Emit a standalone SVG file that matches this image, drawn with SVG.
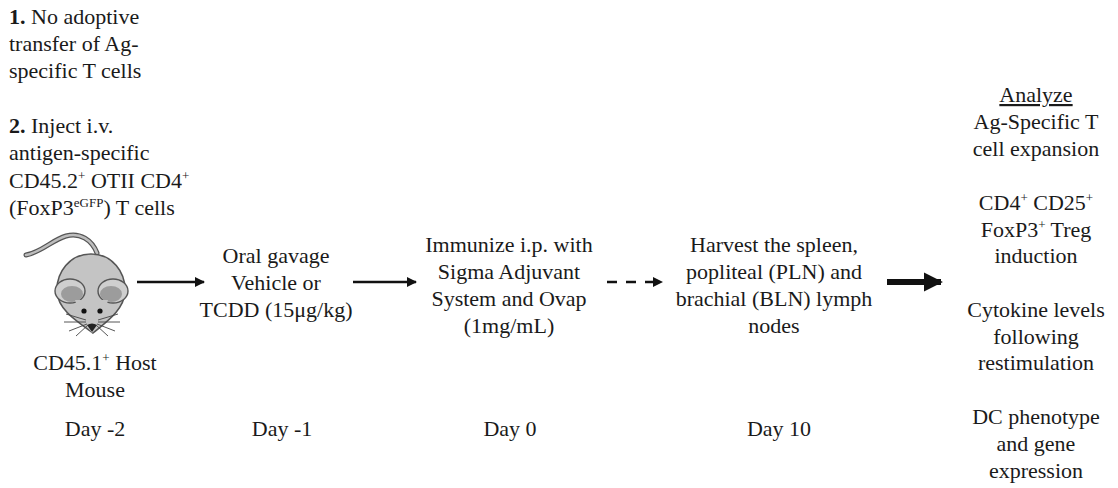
<svg xmlns="http://www.w3.org/2000/svg" width="1118" height="488" viewBox="0 0 1118 488">
  <defs>
    <marker id="head" viewBox="0 0 10 10" refX="9" refY="5" markerWidth="4" markerHeight="4" orient="auto" markerUnits="strokeWidth">
      <path d="M0,0 L10,5 L0,10 Z" fill="#111"/>
    </marker>
    <marker id="headBig" viewBox="0 0 10 10" refX="9" refY="5" markerWidth="3.2" markerHeight="3.2" orient="auto" markerUnits="strokeWidth">
      <path d="M0,0 L10,5 L0,10 Z" fill="#111"/>
    </marker>
  </defs>

  <!-- intro notes, top left -->
  <g id="notes" fill="#1a1a1a">
    <text font-family="Liberation Serif" font-size="22" x="9" y="24"><tspan font-weight="bold">1.</tspan> No adoptive</text>
    <text font-family="Liberation Serif" font-size="22" x="9" y="51">transfer of Ag-</text>
    <text font-family="Liberation Serif" font-size="22" x="9" y="78">specific T cells</text>
    <text font-family="Liberation Serif" font-size="22" x="9" y="133"><tspan font-weight="bold">2.</tspan> Inject i.v.</text>
    <text font-family="Liberation Serif" font-size="22" x="9" y="160">antigen-specific</text>
    <text font-family="Liberation Serif" font-size="22" x="9" y="188">CD45.2<tspan font-size="13" dy="-8">+</tspan><tspan dy="8"> OTII CD4</tspan><tspan font-size="13" dy="-8">+</tspan></text>
    <text font-family="Liberation Serif" font-size="22" x="9" y="215">(FoxP3<tspan font-size="13" dy="-8">eGFP</tspan><tspan dy="8">) T cells</tspan></text>
  </g>

  <!-- host mouse -->
  <g id="mouse" fill="#1a1a1a">
    <path d="M97 253 C92 240 80 232 66 236 C52 240 42 252 26 255" fill="none" stroke="#555" stroke-width="5" stroke-linecap="round"/>
    <path d="M97 253 C92 240 80 232 66 236 C52 240 42 252 26 255" fill="none" stroke="#bdbdbd" stroke-width="2.6" stroke-linecap="round"/>
    <path d="M91 254 C112 254 126 272 125 292 C124 310 106 322 93 333 C78 322 58 310 57 292 C56 272 70 254 91 254 Z" fill="#c4c4c4" stroke="#555" stroke-width="1.6"/>
    <ellipse cx="70" cy="291" rx="15" ry="12" fill="#cfcfcf" stroke="#555" stroke-width="1.4"/>
    <ellipse cx="72" cy="294" rx="11" ry="8" fill="#9c9c9c"/>
    <ellipse cx="113" cy="291" rx="15" ry="12" fill="#cfcfcf" stroke="#555" stroke-width="1.4"/>
    <ellipse cx="111" cy="294" rx="11" ry="8" fill="#9c9c9c"/>
    <path d="M75 300 C80 318 87 326 92 333 C97 326 104 318 108 300" fill="#c4c4c4" stroke="none"/>
    <circle cx="84" cy="311" r="2.6" fill="#111"/>
    <circle cx="100" cy="311" r="2.6" fill="#111"/>
    <path d="M87 325 Q92 322 97 325 L92 332 Z" fill="#222"/>
    <g stroke="#444" stroke-width="0.9" fill="none">
      <path d="M86 320 L66 314"/>
      <path d="M86 322 L64 322"/>
      <path d="M87 324 L69 331"/>
      <path d="M88 325 L76 336"/>
      <path d="M98 320 L118 314"/>
      <path d="M98 322 L120 322"/>
      <path d="M97 324 L115 331"/>
      <path d="M96 325 L108 336"/>
    </g>
    <text font-family="Liberation Serif" font-size="22" text-anchor="middle" x="95" y="370">CD45.1<tspan font-size="13" dy="-8">+</tspan><tspan dy="8"> Host</tspan></text>
    <text font-family="Liberation Serif" font-size="22" text-anchor="middle" x="95" y="397">Mouse</text>
    <text font-family="Liberation Serif" font-size="22" text-anchor="middle" x="95" y="436">Day -2</text>
  </g>

  <!-- oral gavage -->
  <g id="gavage" fill="#1a1a1a">
    <text font-family="Liberation Serif" font-size="22" text-anchor="middle" x="276" y="263">Oral gavage</text>
    <text font-family="Liberation Serif" font-size="22" text-anchor="middle" x="276" y="290">Vehicle or</text>
    <text font-family="Liberation Serif" font-size="22" text-anchor="middle" x="276" y="317">TCDD (15μg/kg)</text>
    <text font-family="Liberation Serif" font-size="22" text-anchor="middle" x="282" y="436">Day -1</text>
  </g>

  <!-- immunization -->
  <g id="immunize" fill="#1a1a1a">
    <text font-family="Liberation Serif" font-size="22" text-anchor="middle" x="509" y="252">Immunize i.p. with</text>
    <text font-family="Liberation Serif" font-size="22" text-anchor="middle" x="509" y="279">Sigma Adjuvant</text>
    <text font-family="Liberation Serif" font-size="22" text-anchor="middle" x="509" y="306">System and Ovap</text>
    <text font-family="Liberation Serif" font-size="22" text-anchor="middle" x="509" y="333">(1mg/mL)</text>
    <text font-family="Liberation Serif" font-size="22" text-anchor="middle" x="510" y="436">Day 0</text>
  </g>

  <!-- harvest -->
  <g id="harvest" fill="#1a1a1a">
    <text font-family="Liberation Serif" font-size="22" text-anchor="middle" x="774" y="252">Harvest the spleen,</text>
    <text font-family="Liberation Serif" font-size="22" text-anchor="middle" x="774" y="279">popliteal (PLN) and</text>
    <text font-family="Liberation Serif" font-size="22" text-anchor="middle" x="774" y="306">brachial (BLN) lymph</text>
    <text font-family="Liberation Serif" font-size="22" text-anchor="middle" x="774" y="333">nodes</text>
    <text font-family="Liberation Serif" font-size="22" text-anchor="middle" x="779" y="436">Day 10</text>
  </g>

  <!-- read-outs -->
  <g id="analyze" fill="#1a1a1a">
    <text font-family="Liberation Serif" font-size="22" text-anchor="middle" x="1036" y="102" text-decoration="underline">Analyze</text>
    <text font-family="Liberation Serif" font-size="22" text-anchor="middle" x="1036" y="129">Ag-Specific T</text>
    <text font-family="Liberation Serif" font-size="22" text-anchor="middle" x="1036" y="156">cell expansion</text>
    <text font-family="Liberation Serif" font-size="22" text-anchor="middle" x="1036" y="210">CD4<tspan font-size="13" dy="-8">+</tspan><tspan dy="8"> CD25</tspan><tspan font-size="13" dy="-8">+</tspan></text>
    <text font-family="Liberation Serif" font-size="22" text-anchor="middle" x="1036" y="237">FoxP3<tspan font-size="13" dy="-8">+</tspan><tspan dy="8"> Treg</tspan></text>
    <text font-family="Liberation Serif" font-size="22" text-anchor="middle" x="1036" y="263">induction</text>
    <text font-family="Liberation Serif" font-size="22" text-anchor="middle" x="1036" y="317">Cytokine levels</text>
    <text font-family="Liberation Serif" font-size="22" text-anchor="middle" x="1036" y="344">following</text>
    <text font-family="Liberation Serif" font-size="22" text-anchor="middle" x="1036" y="370">restimulation</text>
    <text font-family="Liberation Serif" font-size="22" text-anchor="middle" x="1036" y="424">DC phenotype</text>
    <text font-family="Liberation Serif" font-size="22" text-anchor="middle" x="1036" y="451">and gene</text>
    <text font-family="Liberation Serif" font-size="22" text-anchor="middle" x="1036" y="478">expression</text>
  </g>

  <!-- connectors -->
  <g id="connectors" stroke="#111" fill="none">
    <line x1="137" y1="282" x2="204" y2="282" stroke-width="2.5" marker-end="url(#head)"/>
    <line x1="353" y1="282" x2="416" y2="282" stroke-width="2.5" marker-end="url(#head)"/>
    <line x1="607" y1="282" x2="662" y2="282" stroke-width="2.5" stroke-dasharray="10 9" marker-end="url(#head)"/>
    <line x1="887" y1="282" x2="941" y2="282" stroke-width="6" marker-end="url(#headBig)"/>
  </g>
</svg>
